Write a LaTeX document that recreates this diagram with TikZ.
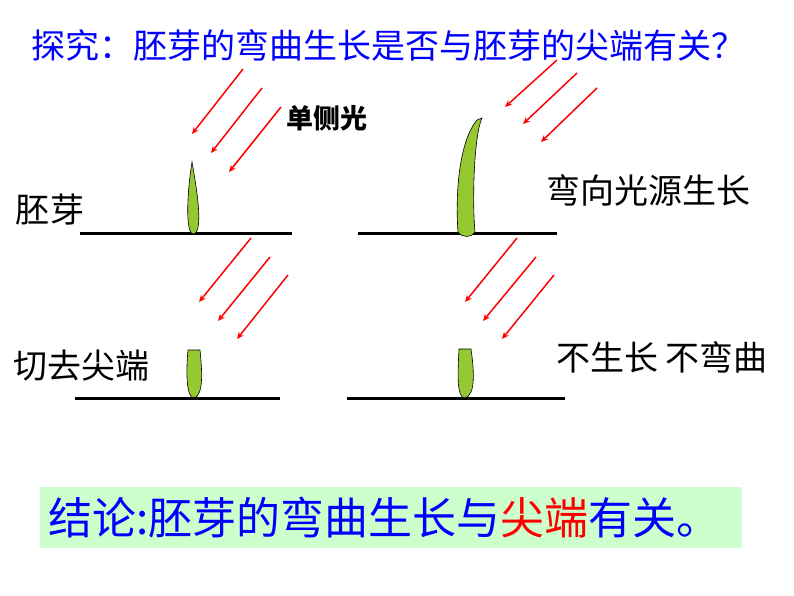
\documentclass[tikz,border=0pt]{standalone}
\usepackage{fontspec}
\usetikzlibrary{arrows.meta}
\setmainfont{Noto Sans CJK SC}
\definecolor{sprg}{RGB}{150,200,50}
\begin{document}
\begin{tikzpicture}[x=1pt,y=-1pt,
  ray/.style={red,line width=1.5pt,-{Stealth[length=7pt,width=6pt]}},
  ground/.style={line width=3pt},
  sprout/.style={fill=sprg,draw=black,line width=0.6pt},
  lbl/.style={font=\fontsize{34}{34}\selectfont,anchor=center,inner sep=0pt}]
\useasboundingbox (0,0) rectangle (794,596);
\node[lbl,blue] (title) at (388,45) {探究：胚芽的弯曲生长是否与胚芽的尖端有关？};
\node[lbl,font=\fontsize{27}{27}\selectfont\bfseries] (light) at (327,118) {单侧光};
\node[lbl] (t1) at (50,210) {胚芽};
\node[lbl] (t2) at (648,190) {弯向光源生长};
\node[lbl] (t3) at (81,366) {切去尖端};
\node[lbl] (t4) at (662,357) {不生长\ 不弯曲};
% grounds
\draw[ground] (80,233) -- (292,233);
\draw[ground] (358,233) -- (557,233);
\draw[ground] (75,398) -- (280,398);
\draw[ground] (347,398) -- (565,398);
% sprouts
\draw[sprout] (192,162) .. controls (196,185) and (204,230) .. (194,234) .. controls (186,236) and (186,200) .. cycle;
\draw[sprout] (482,118) .. controls (474,135) and (472,200) .. (475,232) .. controls (472,238) and (462,238) .. (458,232) .. controls (455,190) and (460,140) .. (477,120) -- cycle;
\draw[sprout] (188,350) -- (200,350) .. controls (202,370) and (204,395) .. (194,398) .. controls (186,398) and (186,370) .. cycle;
\draw[sprout] (459,349) -- (471,349) .. controls (474,370) and (476,395) .. (465,398) .. controls (456,398) and (458,370) .. cycle;
% rays
\draw[ray] (243,69) -- (192,134);
\draw[ray] (262,88) -- (211,153);
\draw[ray] (281,107) -- (229,172);
\draw[ray] (557,60) -- (505,107);
\draw[ray] (577,73) -- (523,124);
\draw[ray] (597,88) -- (541,142);
\draw[ray] (251,238) -- (199,302);
\draw[ray] (270,257) -- (218,321);
\draw[ray] (288,275) -- (237,339);
\draw[ray] (517,238) -- (465,302);
\draw[ray] (536,257) -- (483,321);
\draw[ray] (554,275) -- (502,339);
% conclusion
\fill[green!20] (40,487) rectangle (742,548);
\node[lbl,anchor=west,font=\fontsize{44}{44}\selectfont] (conc) at (48,518) {\textcolor{blue}{结论:胚芽的弯曲生长与}\textcolor{red}{尖端}\textcolor{blue}{有关。}};
\end{tikzpicture}
\end{document}
